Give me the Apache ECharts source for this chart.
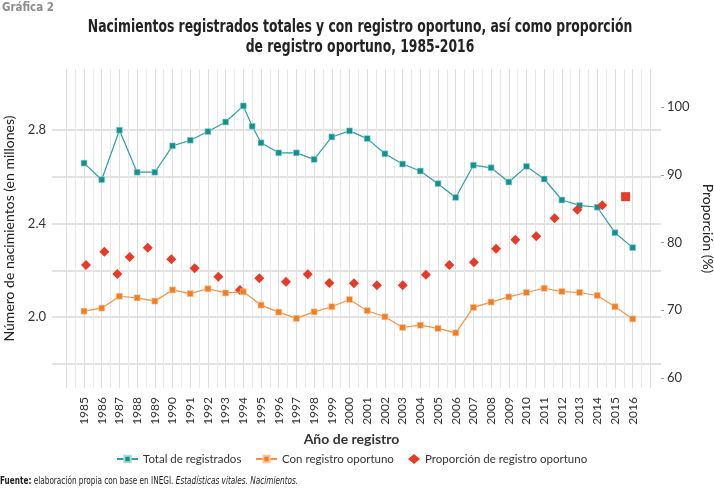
<!DOCTYPE html>
<html>
<head>
<meta charset="utf-8">
<script src="https://cdn.jsdelivr.net/npm/echarts@6/dist/echarts.min.js"></script>
<style>
html,body{margin:0;padding:0;background:#fff;}
#chart{width:714px;height:488px;}
</style>
</head>
<body>
<div id="chart"></div>
<script>
// ---- data ----
var years = [1985,1986,1987,1988,1989,1990,1991,1992,1993,1994,1995,1996,1997,1998,1999,2000,
             2001,2002,2003,2004,2005,2006,2007,2008,2009,2010,2011,2012,2013,2014,2015,2016];

// "Total de registrados" (millones); the drawn line has an extra point at 1994.5
var totalYears = [1985,1986,1987,1988,1989,1990,1991,1992,1993,1994,1994.5,1995,1996,1997,1998,1999,
                  2000,2001,2002,2003,2004,2005,2006,2007,2008,2009,2010,2011,2012,2013,2014,2015,2016];
var totalValues = [2.659,2.588,2.800,2.620,2.620,2.733,2.757,2.794,2.835,2.904,2.817,2.746,2.703,2.703,2.675,2.771,
                   2.797,2.764,2.699,2.655,2.625,2.571,2.512,2.650,2.639,2.578,2.645,2.591,2.501,2.478,2.470,2.361,2.297];

// "Con registro oportuno" (millones)
var oportunoValues = [2.025,2.038,2.089,2.082,2.068,2.116,2.100,2.121,2.103,2.108,2.051,2.021,1.994,2.022,2.044,2.075,
                      2.027,2.001,1.955,1.965,1.951,1.932,2.041,2.064,2.086,2.105,2.123,2.109,2.105,2.092,2.044,1.992];

// "Proporción de registro oportuno" (%), markers drawn at these horizontal positions
var propX = [1985.11,1986.15,1986.88,1987.58,1988.60,1989.93,1991.25,1992.59,1993.81,1994.90,1996.41,1997.64,1998.86,
             2000.25,2001.55,2003.01,2004.32,2005.64,2007.03,2008.28,2009.37,2010.55,2011.59,2012.87,2014.28,2015.60];
var propValues = [76.67,78.64,75.34,77.85,79.23,77.51,76.18,74.94,72.98,74.71,74.20,75.30,74.01,
                  73.97,73.67,73.67,75.24,76.67,77.07,79.08,80.41,80.91,83.57,84.84,85.50,86.77];

// ticks
var leftGridTicks = [1.8,2.0,2.2,2.4,2.6,2.8];
var leftLabelTicks = [2.0,2.4,2.8];
var rightTicks = [60,70,80,90,100];
var xGridTicks = [];
for (var t = 1984; t <= 2017.001; t += 0.5) xGridTicks.push(Math.round(t*10)/10);

var FONT = "Lato, 'Open Sans', sans-serif";
var NARROW = "'Liberation Sans Narrow', 'DejaVu Sans Condensed', sans-serif";
var TEAL = '#14918f', ORANGE = '#f27e23', RED = '#e63b26';
var NAMES = ['Total de registrados','Con registro oportuno','Proporción de registro oportuno'];

var chart = echarts.init(document.getElementById('chart'), null, {renderer:'canvas'});

var propData = propX.map(function(x, i){
  var d = {value:[x, propValues[i]]};
  if (i === propX.length - 1) { d.symbol = 'rect'; d.symbolSize = 9; }
  return d;
});

var legendText = {fontFamily:FONT, fontSize:11.5, color:'#333'};

chart.setOption({
  animation:false,
  backgroundColor:'#fff',
  textStyle:{fontFamily:FONT},
  graphic:[
    {type:'text', x:2, y:1, scaleX:0.88, style:{text:'Gráfica 2', fontFamily:NARROW, fontWeight:'bold', fontSize:13, fill:'#8c8c8c'}},
    {type:'text', x:360, y:17, scaleX:0.765, style:{
      text:'Nacimientos registrados totales y con registro oportuno, así como proporción\nde registro oportuno, 1985-2016',
      align:'center', fontFamily:NARROW, fontWeight:'bold', fontSize:18, lineHeight:20, fill:'#222'}},
    {type:'text', x:0, y:476, scaleX:0.775, style:{
      text:'{b|Fuente:} elaboración propia con base en INEGI. {i|Estadísticas vitales. Nacimientos.}',
      fontFamily:NARROW, fontSize:10.5, fill:'#222',
      rich:{b:{fontFamily:NARROW, fontWeight:'bold', fontSize:10.5, fill:'#222'},
            i:{fontFamily:NARROW, fontStyle:'italic', fontSize:10.5, fill:'#222'}}
    }}
  ],
  legend:[
    {left:116, top:453, padding:0, itemWidth:21, itemHeight:8, textStyle:legendText, data:[NAMES[0]]},
    {left:255, top:453, padding:0, itemWidth:21, itemHeight:8, textStyle:legendText, data:[NAMES[1]]},
    {left:408, top:453, padding:0, itemWidth:12, itemHeight:10, textStyle:legendText, data:[NAMES[2]]}
  ],
  grid:{left:52, right:53, top:69, bottom:100, outerBoundsMode:'none', containLabel:false},
  xAxis:{
    type:'value', min:1983.19, max:2017.6,
    name:'Año de registro', nameLocation:'middle', nameGap:42,
    nameTextStyle:{fontFamily:FONT, fontWeight:'bold', fontSize:14, color:'#333', padding:[0,10,0,0]},
    axisLine:{show:false},
    axisTick:{show:false, customValues:xGridTicks},
    axisLabel:{customValues:years, rotate:90, margin:9, fontSize:12, color:'#333',
               formatter:function(v){return String(Math.round(v));}},
    splitLine:{show:true, lineStyle:{color:['#dedede','#e9e9e9'], width:1}}
  },
  yAxis:[
    {
      type:'value', min:1.696, max:3.062, position:'left',
      name:'Número de nacimientos (en millones)', nameLocation:'middle', nameGap:34,
      nameTextStyle:{fontFamily:FONT, fontSize:14, color:'#222'},
      axisLine:{show:false},
      axisTick:{show:false, customValues:leftGridTicks},
      axisLabel:{customValues:leftLabelTicks, margin:6, fontSize:13, color:'#333',
                 formatter:function(v){return v.toFixed(1);}},
      splitLine:{show:true, lineStyle:{color:'#d9d9d9', width:1.5}}
    },
    {
      type:'value', min:58.49, max:105.64, position:'right',
      name:'Proporción (%)', nameLocation:'middle', nameGap:38, nameRotate:-90,
      nameTextStyle:{fontFamily:FONT, fontSize:14, color:'#222'},
      axisLine:{show:false},
      axisTick:{show:true, length:3, customValues:rightTicks, lineStyle:{color:'#999'}},
      axisLabel:{customValues:rightTicks, margin:6, fontSize:13, color:'#333'},
      splitLine:{show:false}
    }
  ],
  series:[
    {
      name:NAMES[0], type:'line', yAxisIndex:0,
      data:totalYears.map(function(x,i){return [x, totalValues[i]];}),
      symbol:'rect', symbolSize:6, showAllSymbol:true,
      lineStyle:{color:'#2aa0a0', width:1.2},
      itemStyle:{color:TEAL, borderColor:'#a9dcdb', borderWidth:0.6},
      z:3
    },
    {
      name:NAMES[1], type:'line', yAxisIndex:0,
      data:years.map(function(x,i){return [x, oportunoValues[i]];}),
      symbol:'rect', symbolSize:6, showAllSymbol:true,
      lineStyle:{color:'#f5913f', width:1.2},
      itemStyle:{color:ORANGE, borderColor:'#fbc79c', borderWidth:0.6},
      z:4
    },
    {
      name:NAMES[2], type:'scatter', yAxisIndex:1,
      data:propData, symbol:'diamond', symbolSize:10,
      itemStyle:{color:RED, opacity:1},
      z:3
    }
  ]
});
</script>
</body>
</html>
